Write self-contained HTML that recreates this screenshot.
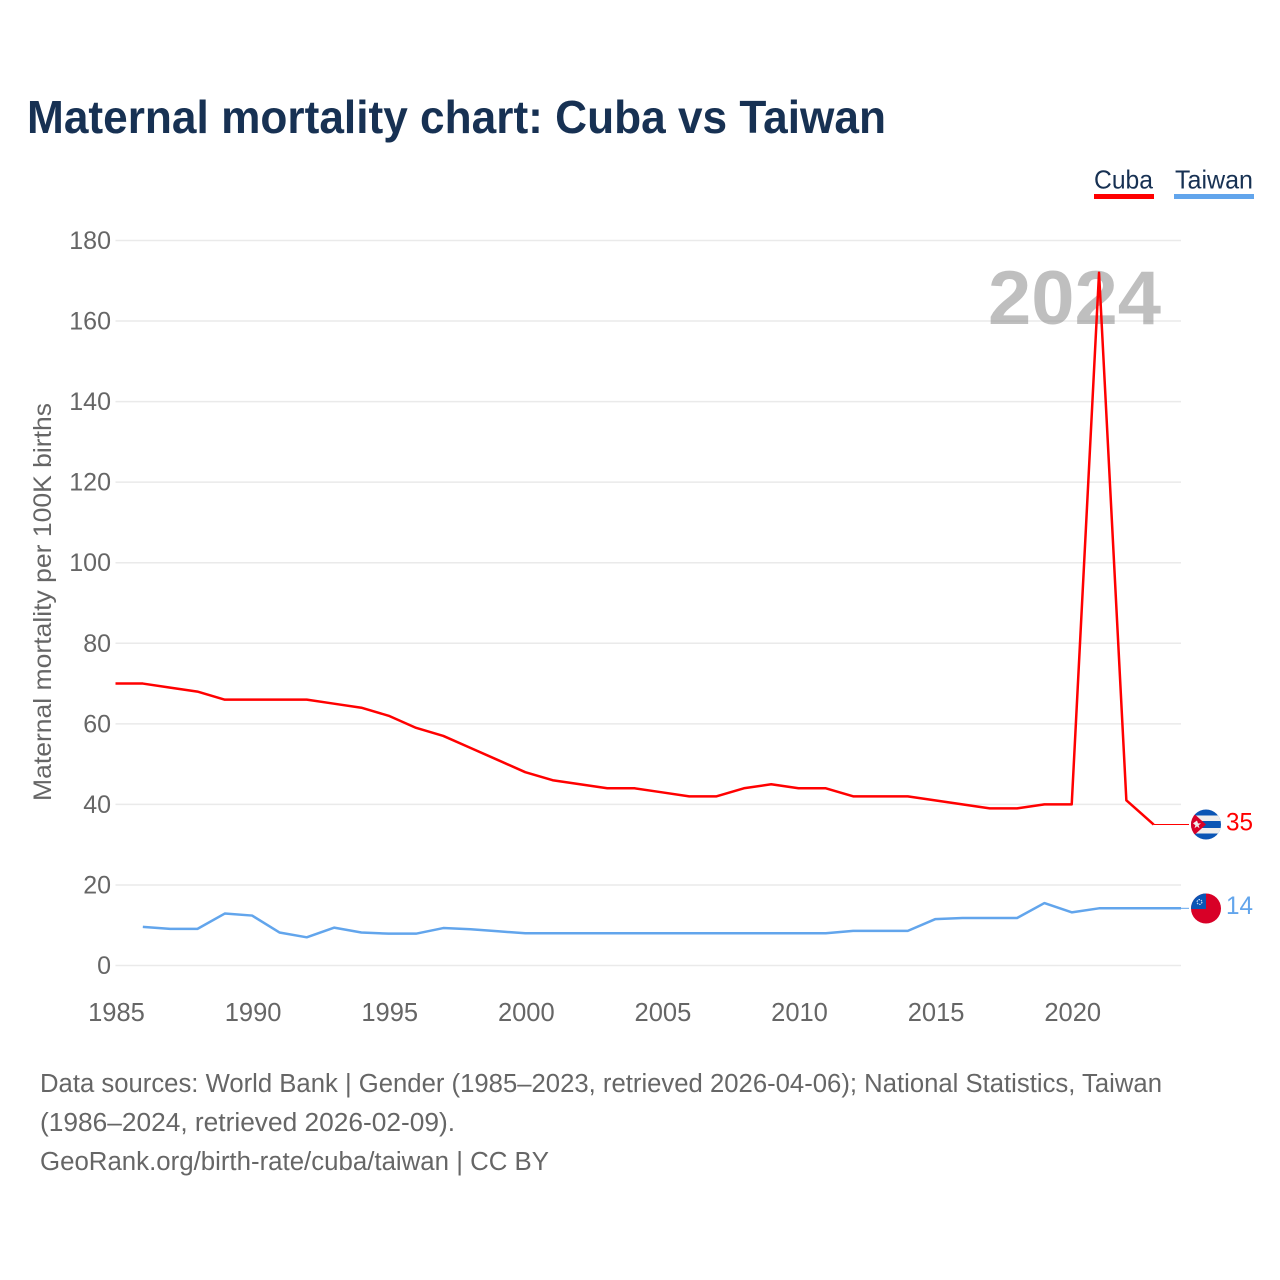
<!DOCTYPE html>
<html>
<head>
<meta charset="utf-8">
<title>Maternal mortality chart: Cuba vs Taiwan</title>
<style>
html,body{margin:0;padding:0;background:#fff;width:1280px;height:1280px;overflow:hidden}
svg{display:block}
text{font-family:"Liberation Sans",sans-serif}
</style>
</head>
<body>
<svg id="chart" xmlns="http://www.w3.org/2000/svg" width="1280" height="1280" viewBox="0 0 1280 1280">
  <defs>
    <clipPath id="flag-clip-cuba"><circle cx="1206" cy="824.5" r="15"/></clipPath>
    <clipPath id="flag-clip-taiwan"><circle cx="1206" cy="908.5" r="15"/></clipPath>
  </defs>
  <text x="27" y="133" font-size="46" font-weight="700" fill="#173153" textLength="859" lengthAdjust="spacingAndGlyphs">Maternal mortality chart: Cuba vs Taiwan</text>

  <g>
    <g>
      <text x="1094" y="188.5" font-size="26" fill="#173153" textLength="59" lengthAdjust="spacingAndGlyphs">Cuba</text>
      <rect x="1094" y="194" width="60" height="5" fill="#ff0000"/>
    </g>
    <g>
      <text x="1175" y="188.5" font-size="26" fill="#173153" textLength="78" lengthAdjust="spacingAndGlyphs">Taiwan</text>
      <rect x="1174" y="194" width="80" height="5" fill="#62a5ec"/>
    </g>
  </g>

  <g id="grid"></g>
  <g id="yticks"></g>
  <g id="xticks"></g>

  <text transform="translate(51 801) rotate(-90)" x="0" y="0" font-size="25" fill="#666666" textLength="398" lengthAdjust="spacingAndGlyphs">Maternal mortality per 100K births</text>

  <text x="988" y="324" font-size="76" font-weight="700" fill="#808080" fill-opacity="0.5" textLength="173" lengthAdjust="spacingAndGlyphs">2024</text>

  <g id="series"></g>

  <g clip-path="url(#flag-clip-cuba)">
    <rect x="1191" y="809" width="30" height="31" fill="#0a55b5"/>
    <rect x="1191" y="815.5" width="30" height="5.5" fill="#eeeeee"/>
    <rect x="1191" y="828" width="30" height="5.5" fill="#eeeeee"/>
    <polygon points="1191,811 1206,824.5 1191,838" fill="#d80027"/>
    <polygon points="1197,820.5 1198,823.4 1201,823.4 1198.6,825.2 1199.5,828.2 1197,826.4 1194.5,828.2 1195.4,825.2 1193,823.4" fill="#eeeeee"/>
  </g>
  <g clip-path="url(#flag-clip-taiwan)">
    <rect x="1191" y="893" width="30" height="31" fill="#d80027"/>
    <rect x="1191" y="893" width="15" height="16" fill="#0a55b5"/>
    <circle cx="1199.5" cy="902" r="2.4" fill="none" stroke="#cfe0f5" stroke-width="1.2" stroke-dasharray="1.5 1"/>
  </g>

  <text id="value-cuba" x="1226" y="830.5" font-size="25" fill="#ff0000" textLength="27" lengthAdjust="spacingAndGlyphs">35</text>
  <text id="value-taiwan" x="1226" y="914" font-size="25" fill="#62a5ec" textLength="27" lengthAdjust="spacingAndGlyphs">14</text>

  <g font-size="25.5" fill="#666666">
    <text x="40" y="1092" textLength="1122" lengthAdjust="spacingAndGlyphs">Data sources: World Bank | Gender (1985–2023, retrieved 2026-04-06); National Statistics, Taiwan</text>
    <text x="40" y="1131" textLength="415" lengthAdjust="spacingAndGlyphs">(1986–2024, retrieved 2026-02-09).</text>
    <text x="40" y="1170" textLength="509" lengthAdjust="spacingAndGlyphs">GeoRank.org/birth-rate/cuba/taiwan | CC BY</text>
  </g>
</svg>
<script>
const years = [1985,1986,1987,1988,1989,1990,1991,1992,1993,1994,1995,1996,1997,1998,1999,2000,2001,2002,2003,2004,2005,2006,2007,2008,2009,2010,2011,2012,2013,2014,2015,2016,2017,2018,2019,2020,2021,2022,2023,2024];
const cubaValues = [70,70,69,68,66,66,66,66,65,64,62,59,57,54,51,48,46,45,44,44,43,42,42,44,45,44,44,42,42,42,41,40,39,39,40,40,172,41,35,null];
const taiwanValues = [null,9.6,9.1,9.1,12.9,12.4,8.2,7,9.4,8.2,7.9,7.9,9.3,9,8.5,8,8,8,8,8,8,8,8,8,8,8,8,8.6,8.6,8.6,11.5,11.8,11.8,11.8,15.5,13.2,14.2,14.2,14.2,14.2];
const yTicks = [0,20,40,60,80,100,120,140,160,180];
const xTicks = [1985,1990,1995,2000,2005,2010,2015,2020];
const cubaLatest = 35;
const taiwanLatest = 14.2;

const NS = 'http://www.w3.org/2000/svg';
const plot = {left:115.5, right:1181, top:240.5, bottom:965.5};
const xMin = 1985, xMax = 2024, yMin = 0, yMax = 180;
function xScale(v){ return plot.left + (v - xMin) / (xMax - xMin) * (plot.right - plot.left); }
function yScale(v){ return plot.bottom - (v - yMin) / (yMax - yMin) * (plot.bottom - plot.top); }
function make(tag, attrs, parent){
  const el = document.createElementNS(NS, tag);
  for (const k in attrs) el.setAttribute(k, attrs[k]);
  parent.appendChild(el);
  return el;
}
function linePath(values){
  let d = '';
  let pen = false;
  values.forEach(function(v, i){
    if (v === null) { pen = false; return; }
    d += (pen ? 'L' : 'M') + xScale(years[i]).toFixed(2) + ' ' + yScale(v).toFixed(2);
    pen = true;
  });
  return d;
}
function lastIndex(values){
  for (let i = values.length - 1; i >= 0; i--) if (values[i] !== null) return i;
  return -1;
}

const gridG = document.getElementById('grid');
const yG = document.getElementById('yticks');
const xG = document.getElementById('xticks');
const seriesG = document.getElementById('series');

yTicks.forEach(function(t){
  const line = make('line', {x1:plot.left, x2:plot.right, y1:yScale(t), y2:yScale(t), stroke:'#eaeaea', 'stroke-width':1.5}, gridG);
  
  
  const label = make('text', {x:111, y:yScale(t) + 8.5, 'font-size':25, fill:'#666666', 'text-anchor':'end'}, yG);
  
  
  label.textContent = t;
});
xTicks.forEach(function(t){
  const label = make('text', {x:xScale(t) + 1, y:1021, 'font-size':25.5, fill:'#666666', 'text-anchor':'middle'}, xG);
  
  
  label.textContent = t;
});

const cubaIdx = lastIndex(cubaValues);
const taiwanIdx = lastIndex(taiwanValues);

const cubaLeader = make('line', {x1:xScale(years[cubaIdx]), y1:yScale(cubaLatest), x2:1189, y2:yScale(cubaLatest), stroke:'#ff0000', 'stroke-width':1}, seriesG);


const taiwanLeader = make('line', {x1:xScale(years[taiwanIdx]), y1:yScale(taiwanLatest), x2:1189, y2:yScale(taiwanLatest), stroke:'#62a5ec', 'stroke-width':1}, seriesG);



const taiwanLine = make('path', {d:linePath(taiwanValues), fill:'none', stroke:'#62a5ec', 'stroke-width':2.5, 'stroke-linejoin':'round'}, seriesG);


const cubaLine = make('path', {d:linePath(cubaValues), fill:'none', stroke:'#ff0000', 'stroke-width':2.5, 'stroke-linejoin':'round'}, seriesG);


</script>
</body>
</html>
